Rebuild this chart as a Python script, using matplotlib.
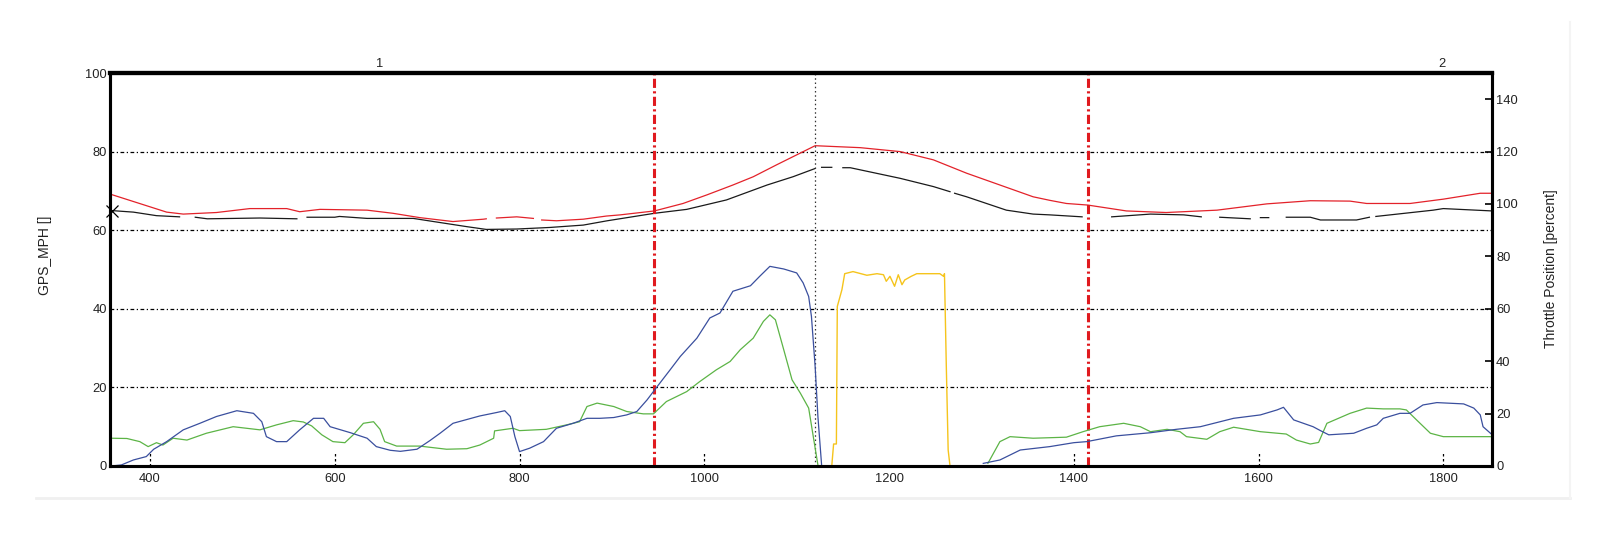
import numpy as np
import matplotlib
matplotlib.use("Agg")
import matplotlib.pyplot as plt
from matplotlib.transforms import blended_transform_factory
from matplotlib.lines import Line2D

plt.rcParams['font.family'] = ['Liberation Sans', 'DejaVu Sans']

nan = np.nan

# ---- data (distance, value) ----
red_x = [358, 382, 418, 436, 472, 508, 548, 562, 584, 635, 663, 692, 728, 761, 764, nan, 775, 797, 815, nan,
         824, 840, 869, 894, 909, 946, 977, 1003, 1031, 1053, 1078, 1096, 1120, 1169, 1212, 1248, 1284, 1320,
         1356, 1374, 1392, 1415, 1457, 1500, 1555, 1609, 1656, 1699, 1717, 1764, 1800, 1840, 1853]
red_y = [69.1, 67.3, 64.6, 64.1, 64.5, 65.5, 65.5, 64.7, 65.3, 65.1, 64.3, 63.2, 62.2, 62.8, 62.9, nan, 63.1, 63.4, 63.0, nan,
         62.6, 62.4, 62.8, 63.6, 63.9, 64.9, 66.8, 69.0, 71.5, 73.6, 76.6, 78.7, 81.5, 81.0, 80.0, 77.9, 74.5, 71.5,
         68.5, 67.6, 66.8, 66.4, 64.9, 64.5, 65.1, 66.7, 67.5, 67.4, 66.8, 66.8, 67.9, 69.4, 69.4]

black_x = [358, 382, 407, 432, nan, 449, 462, 519, 559, nan, 570, 600, 605, 635, 685, 707, 743, 764, 797, 833,
           869, 895, 946, 981, 1024, 1068, 1096, 1120, nan, 1127, 1138, nan, 1150, 1158, 1212, 1248, 1266, nan,
           1271, 1284, 1327, 1356, 1374, 1409, nan, 1441, 1483, 1519, 1538, nan, 1558, 1591, nan, 1602, 1611, nan,
           1630, 1656, 1667, 1706, 1720, nan, 1727, 1789, 1800, 1853]
black_y = [65.0, 64.6, 63.7, 63.4, nan, 63.3, 62.9, 63.1, 62.9, nan, 63.3, 63.3, 63.5, 63.0, 63.0, 62.2, 60.9, 60.2, 60.3, 60.7,
           61.3, 62.4, 64.3, 65.3, 67.7, 71.5, 73.6, 75.7, nan, 76.0, 76.0, nan, 75.9, 75.9, 73.2, 71.1, 69.8, nan,
           69.4, 68.5, 65.1, 64.1, 63.9, 63.4, nan, 63.4, 64.1, 63.9, 63.4, nan, 63.3, 62.9, nan, 63.2, 63.2, nan,
           63.3, 63.3, 62.6, 62.6, 63.3, nan, 63.5, 65.1, 65.5, 64.9]

blue_x = [358, 369, 382, 396, 404, 418, 436, 454, 472, 494, 512, 521, 526, 537, 548, 562, 577, 588, 595, 617,
          635, 645, 660, 671, 689, 703, 714, 728, 757, 775, 784, 790, 795, 800, 811, 826, 840, 858, 873, 887,
          902, 916, 927, 938, 949, 963, 974, 992, 1006, 1017, 1031, 1050, 1060, 1071, 1086, 1100, 1107, 1113,
          1116, 1120, 1123, 1127, nan, 1302, 1320, 1342, 1374, 1400, 1414, 1446, 1483, 1511, 1537, 1573, 1602,
          1620, 1627, 1638, 1659, 1667, 1676, 1703, 1717, 1728, 1735, 1753, 1764, 1778, 1793, 1822, 1833, 1840,
          1843, 1852]
blue_y = [0.0, 0.4, 2.3, 3.6, 6.4, 9.3, 13.8, 16.3, 18.9, 21.1, 20.1, 16.9, 11.2, 9.3, 9.3, 13.8, 18.2, 18.2, 15.0, 12.7,
          10.6, 7.4, 6.0, 5.6, 6.4, 9.7, 12.5, 16.3, 19.1, 20.4, 21.1, 18.9, 11.2, 5.5, 6.8, 9.3, 14.4, 16.3, 18.2, 18.2,
          18.5, 19.5, 20.8, 25.2, 30.3, 36.7, 41.8, 48.8, 56.5, 58.4, 66.7, 68.8, 72.4, 76.2, 75.2, 73.7, 69.9, 64.7,
          57.1, 38.0, 18.9, 0.4, nan, 1.0, 2.3, 6.1, 7.4, 8.9, 9.3, 11.5, 12.7, 14.0, 15.0, 18.2, 19.5,
          21.4, 22.4, 17.6, 15.0, 13.5, 11.9, 12.5, 14.4, 15.7, 18.2, 20.1, 20.1, 23.3, 24.2, 23.7, 22.1, 19.5,
          15.0, 12.2]

green_x = [358, 375, 389, 398, 407, 414, 425, 440, 461, 490, 519, 537, 555, 566, 575, 586, 598, 611, 620, 631,
           642, 649, 654, 667, 692, 721, 743, 757, 772, 773, 793, 800, 829, 851, 865, 873, 884, 902, 916, 934,
           945, 959, 981, 995, 1013, 1028, 1039, 1053, 1064, 1071, 1077, 1086, 1095, 1104, 1113, 1118, 1123,
           nan, 1307, 1320, 1331, 1356, 1392, 1410, 1428, 1454, 1472, 1483, 1501, 1515, 1522, 1544, 1558, 1573,
           1602, 1630, 1641, 1656, 1665, 1674, 1699, 1717, 1735, 1753, 1760, 1771, 1786, 1800, 1825, 1853]
green_y = [10.6, 10.5, 9.3, 7.4, 8.9, 8.0, 10.6, 9.9, 12.5, 15.0, 13.8, 15.7, 17.3, 16.8, 15.3, 11.9, 9.3, 8.9, 11.9, 16.3,
           16.9, 14.0, 9.3, 7.6, 7.6, 6.4, 6.6, 8.0, 10.6, 13.4, 14.4, 13.5, 14.0, 15.7, 16.9, 22.7, 24.0, 22.7, 20.8, 19.9,
           19.9, 24.6, 28.4, 32.2, 36.7, 39.9, 44.4, 48.8, 55.2, 57.7, 55.8, 44.4, 32.9, 27.8, 22.1, 11.2, 0.4,
           nan, 1.0, 9.3, 11.2, 10.6, 11.0, 13.1, 15.0, 16.3, 15.0, 13.1, 14.0, 13.1, 11.2, 10.2, 13.1, 14.8,
           13.1, 12.2, 9.9, 8.4, 9.0, 16.3, 20.1, 22.1, 21.8, 21.8, 21.4, 17.6, 12.5, 11.2, 11.2, 11.2]

yellow_x = [1138, 1140, 1143, 1144, 1149, 1152, 1161, 1176, 1187, 1194, 1197, 1201, 1206, 1210, 1214, 1217,
            1224, 1230, 1255, 1259, 1260, 1262, 1264, 1266]
yellow_y = [0.0, 8.4, 8.4, 60.9, 67.3, 73.4, 74.2, 72.8, 73.4, 73.0, 70.5, 72.4, 68.6, 73.0, 69.2, 71.0,
            72.4, 73.4, 73.4, 72.4, 73.4, 38.0, 6.1, 0.0]

x_ticks = [400, 600, 800, 1000, 1200, 1400, 1600, 1800]
left_ticks = [0, 20, 40, 60, 80, 100]
right_ticks = [0, 20, 40, 60, 80, 100, 120, 140]
section_lines = [946, 1415]
cursor_x = 1120
lap_labels = ["1", "2"]
lap_label_x = [649, 1798]
cursor_marker = (358.5, 65.0)

# ---- figure ----
W, H = 1599, 545
fig = plt.figure(figsize=(W / 100, H / 100), dpi=100)
fig.patch.set_facecolor('white')

# faint outer frame edges (bottom and right only)
fig.lines.append(Line2D([36 / W, 1570 / W], [1 - 498 / H, 1 - 498 / H], transform=fig.transFigure,
                        color='#f0f0f0', lw=2))
fig.lines.append(Line2D([1570 / W, 1570 / W], [1 - 498 / H, 1 - 22 / H], transform=fig.transFigure,
                        color='#f4f4f4', lw=1.5))

L, R, T, B = 110, 1492, 73, 466
ax = fig.add_axes([L / W, 1 - B / H, (R - L) / W, (B - T) / H])
ax2 = ax.twinx()

tick_color = '#222222'
ax.set_xlim(356.7, 1852.7)
ax.set_ylim(0, 100)
ax2.set_ylim(0, 150)

# grid
for v in left_ticks[1:-1]:
    ax.axhline(v, color='black', lw=0.9, linestyle=(0, (3, 2, 1, 2)), zorder=1)

# speed lines (left axis)
ax.plot(black_x, black_y, color='#1a1a1a', lw=0.9, zorder=3)
ax.plot(red_x, red_y, color='#e3222a', lw=0.9, zorder=3)
ax.plot([cursor_marker[0]], [cursor_marker[1]], marker='x', ms=9, mew=0.9, color='black',
        clip_on=False, zorder=5)

# lower lines (right axis)
ax2.plot(green_x, green_y, color='#5cb446', lw=0.9, zorder=2)
ax2.plot(blue_x, blue_y, color='#3a4f9e', lw=0.9, zorder=2)
ax2.plot(yellow_x, yellow_y, color='#f5c41c', lw=1.0, zorder=2)

# vertical markers
for xv in section_lines:
    ax.axvline(xv, color='#e01a1f', lw=2.2, linestyle=(0, (3, 1.1, 0.7, 1.1)), zorder=4)
ax.axvline(cursor_x, color='#333333', lw=0.9, linestyle=(0, (1.2, 2.2)), zorder=4)

# x ticks as dotted short lines
trans = blended_transform_factory(ax.transData, ax.transAxes)
tick_len = 13 / (B - T)
for xv in x_ticks:
    if xv == 1200:
        continue
    ax.plot([xv, xv], [0, tick_len], transform=trans, color='black', lw=0.9,
            linestyle=(0, (2, 2)), zorder=2)

ax.set_xticks(x_ticks)
ax.set_xticklabels([str(v) for v in x_ticks])
ax.tick_params(axis='x', length=0, pad=5, labelsize=9.3, colors=tick_color)
ax.set_yticks(left_ticks)
ax.set_yticklabels([str(v) for v in left_ticks])
ax.tick_params(axis='y', length=0, pad=2, labelsize=9.3, colors=tick_color)

ax2.set_yticks(right_ticks)
ax2.set_yticklabels([str(v) for v in right_ticks])
ax2.tick_params(axis='y', direction='in', length=5, width=1.2, pad=3, labelsize=9.3,
                colors=tick_color)
ax2.tick_params(axis='y', color='black')

for a in (ax, ax2):
    for s in ('left', 'right', 'bottom'):
        a.spines[s].set_linewidth(2.2)
        a.spines[s].set_color('black')
    a.spines['top'].set_linewidth(3.0)
    a.spines['top'].set_color('black')

# lap labels above the top axis
for lbl, xv in zip(lap_labels, lap_label_x):
    ax.text(xv, 1.0 + 9 / (B - T), lbl, transform=trans, ha='center', va='center',
            fontsize=9.3, color=tick_color)

# axis labels
fig.text(45 / W, 1 - 255 / H, 'GPS_MPH []', rotation=90, ha='center', va='center',
         fontsize=10, color='#222222')
fig.text(1551 / W, 1 - 269 / H, 'Throttle Position [percent]', rotation=90, ha='center',
         va='center', fontsize=10, color='#222222')

fig.savefig('out.png', dpi=100, facecolor='white')
